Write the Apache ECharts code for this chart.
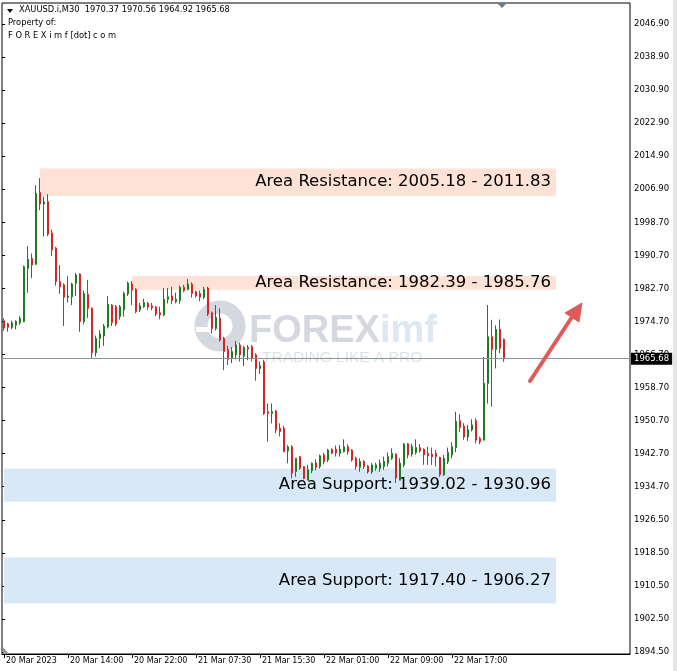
<!DOCTYPE html>
<html><head><meta charset="utf-8">
<script src="https://cdn.jsdelivr.net/npm/echarts@6/dist/echarts.min.js"></script>
<style>html,body{margin:0;padding:0;background:#fff}#c{width:677px;height:671px}</style>
</head><body><div id="c"></div>
<script>
// ---- data (XAUUSD.i M30) ----
const opens = [1974.9,1974.1,1973.3,1973.8,1974.4,1974.7,1987.6,1990.0,1988.6,2006.0,2003.2,2003.8,1996.2,1992.5,1984.4,1983.6,1980.6,1980.7,1984.0,1986.2,
1974.7,1981.3,1977.9,1967.1,1970.6,1971.2,1973.4,1978.7,1978.3,1975.9,1977.5,1981.4,1983.8,1982.5,1977.5,1978.3,1979.1,1978.5,1978.2,1976.8,
1976.3,1980.1,1980.9,1979.5,1979.8,1983.0,1982.5,1983.8,1981.9,1981.5,1980.6,1982.8,1976.8,1973.0,1975.5,1970.6,1967.9,1965.8,1966.6,1969.0,
1966.3,1968.4,1968.6,1966.6,1963.3,1964.9,1952.8,1952.4,1953.0,1948.8,1948.8,1943.3,1944.3,1938.3,1941.9,1939.5,1936.2,1938.5,1940.4,1939.5,
1942.3,1941.1,1943.7,1943.7,1942.7,1943.1,1944.3,1943.5,1941.5,1939.3,1940.7,1939.6,1938.2,1939.1,1939.0,1939.5,1940.3,1941.5,1942.5,1936.2,
1939.9,1945.0,1942.5,1942.9,1944.1,1943.7,1942.7,1942.5,1942.7,1941.7,1937.5,1940.7,1942.3,1944.1,1950.6,1949.3,1946.7,1948.4,1950.6,1946.3,
1945.9,1959.7,1971.0,1967.9,1972.8,1970.37];
const highs = [1975.5,1974.4,1974.9,1975.0,1976.0,1988.3,1993.0,1991.2,2007.8,2009.5,2005.0,2005.6,1997.0,1992.8,1988.4,1984.0,1985.7,1984.1,1986.5,1986.4,
1982.2,1984.8,1978.1,1971.3,1972.6,1974.1,1980.9,1978.9,1978.7,1978.7,1981.9,1984.4,1984.5,1982.8,1979.2,1980.2,1979.5,1979.2,1978.5,1978.3,
1982.8,1982.8,1983.1,1981.7,1983.4,1983.6,1985.0,1984.2,1982.2,1982.2,1983.1,1983.1,1977.1,1978.7,1977.9,1971.0,1968.8,1968.5,1970.0,1969.6,
1968.8,1969.0,1969.0,1967.0,1965.0,1965.4,1954.8,1954.8,1953.2,1950.0,1949.4,1944.7,1944.7,1941.5,1942.1,1939.6,1939.9,1940.5,1941.2,1942.4,
1942.8,1943.8,1943.9,1944.6,1944.7,1946.1,1944.9,1943.7,1941.9,1941.5,1941.1,1939.9,1940.3,1940.4,1941.2,1941.9,1942.9,1943.9,1942.7,1941.5,
1945.2,1945.2,1945.0,1946.1,1944.9,1943.9,1944.3,1944.1,1943.5,1941.9,1942.3,1944.1,1945.4,1952.8,1952.2,1950.0,1949.6,1951.0,1951.2,1946.7,
1966.1,1978.7,1975.1,1973.8,1975.2,1970.56];
const lows = [1972.5,1972.2,1972.8,1972.8,1973.9,1974.5,1981.7,1985.2,1988.4,2001.7,1995.3,1995.4,1990.6,1983.4,1981.4,1973.6,1979.3,1978.7,1980.9,1972.2,
1974.0,1975.5,1965.7,1966.2,1968.2,1968.8,1973.0,1973.6,1973.6,1975.2,1975.9,1980.9,1978.7,1976.7,1977.0,1978.0,1977.5,1977.4,1976.0,1975.2,
1976.0,1979.1,1978.9,1979.1,1979.0,1981.8,1982.3,1980.5,1980.5,1979.6,1980.1,1976.0,1971.8,1972.5,1969.8,1962.9,1964.1,1964.6,1965.5,1965.0,
1963.9,1965.3,1965.0,1960.3,1962.0,1952.0,1945.5,1950.0,1947.6,1946.8,1943.0,1940.3,1936.6,1937.0,1938.7,1936.4,1936.2,1937.9,1938.6,1939.0,
1940.0,1940.6,1942.5,1941.9,1941.9,1942.9,1942.4,1940.7,1938.7,1938.2,1938.9,1937.8,1937.7,1938.5,1938.2,1938.7,1939.5,1941.1,1935.5,1936.2,
1939.3,1941.5,1941.9,1942.4,1942.9,1939.9,1939.9,1939.9,1939.5,1937.0,1937.2,1940.1,1941.5,1943.0,1947.9,1946.0,1945.7,1948.0,1945.1,1944.9,
1945.9,1954.8,1954.0,1963.3,1967.0,1964.92];
const closes = [1973.1,1973.3,1974.4,1974.7,1975.5,1988.0,1989.8,1988.4,2005.8,2003.2,2003.7,1995.9,1992.1,1984.4,1983.1,1980.6,1980.9,1983.8,1986.0,1974.7,
1981.5,1977.9,1967.1,1970.6,1971.7,1973.6,1978.9,1974.4,1974.1,1978.3,1981.5,1984.0,1982.3,1977.1,1978.5,1979.3,1978.2,1978.0,1976.5,1976.3,
1980.1,1980.7,1979.8,1980.1,1983.0,1982.2,1983.8,1981.5,1980.9,1980.6,1982.5,1976.5,1973.0,1975.7,1970.2,1967.4,1965.5,1967.4,1969.0,1966.6,
1968.4,1968.0,1965.8,1963.3,1964.0,1952.4,1952.4,1952.8,1948.4,1948.0,1943.1,1944.3,1937.9,1941.5,1939.1,1936.6,1938.7,1940.3,1939.3,1942.1,
1940.7,1943.5,1942.7,1942.8,1943.7,1944.3,1943.1,1941.1,1939.5,1940.7,1939.5,1938.2,1939.9,1939.9,1940.3,1940.7,1941.9,1942.7,1936.7,1940.3,
1945.0,1942.3,1944.3,1944.1,1943.3,1942.3,1942.1,1941.9,1941.9,1937.5,1941.5,1942.9,1944.3,1950.4,1949.0,1946.7,1948.4,1949.6,1945.9,1945.5,
1959.7,1971.0,1967.9,1972.8,1968.2,1965.68];

const barSlots = 157; // visible bar slots incl. empty right shift
const xTickBars = [0, 16, 32, 48, 64, 80, 96, 112];
const xTickLabels = ['20 Mar 2023','20 Mar 14:00','20 Mar 22:00','21 Mar 07:30','21 Mar 15:30','22 Mar 01:00','22 Mar 09:00','22 Mar 17:00'];
const yTickLabels = ['1894.50','1902.50','1910.50','1918.50','1926.50','1934.70','1942.70','1950.70','1958.70','1966.70',
'1974.70','1982.70','1990.70','1998.70','2006.90','2014.90','2022.90','2030.90','2038.90','2046.90'];

const zoneNames = ['Area Resistance: 2005.18 - 2011.83','Area Resistance: 1982.39 - 1985.76','Area Support: 1939.02 - 1930.96','Area Support: 1917.40 - 1906.27'];
const zoneHigh = [2011.83, 1985.76, 1939.02, 1917.40];
const zoneLow = [2005.18, 1982.39, 1930.96, 1906.27];
const zoneFromBar = [9, 32, 0, 0];
const zoneToBar = [138, 138, 138, 138];
const zoneIsResistance = [true, true, false, false];

const lastPrice = 1965.68;
const headerText = 'XAUUSD.i,M30  1970.37 1970.56 1964.92 1965.68';

// ---- chart ----
const cats = Array.from({length: barSlots}, (_, i) => String(i));
const candleData = opens.map((o, i) => [o, closes[i], lows[i], highs[i]]);
const UP = '#1c7d1c', DOWN = '#d42626';
const FONT = '"DejaVu Sans", sans-serif';

const areaData = zoneNames.map((n, i) => [
  {name: n, xAxis: zoneFromBar[i], yAxis: zoneHigh[i],
   itemStyle: {color: zoneIsResistance[i] ? '#fde2d5' : '#d8e8f7'}},
  {xAxis: zoneToBar[i], yAxis: zoneLow[i]}
]);

const chart = echarts.init(document.getElementById('c'), null, {renderer: 'canvas'});
chart.setOption({
  animation: false,
  backgroundColor: '#ffffff',
  grid: [
    {left: 2, right: 47, top: 3, bottom: 17, show: true, borderColor: '#000', borderWidth: 1, backgroundColor: 'transparent'},
    {left: 2, right: 47, top: 24, bottom: 19, show: false}
  ],
  xAxis: [
    {type: 'category', gridIndex: 0, data: cats, boundaryGap: true,
     axisLine: {show: true, lineStyle: {color: '#000', width: 1}},
     axisTick: {show: true, alignWithLabel: true, length: 4, interval: (i) => xTickBars.includes(i), lineStyle: {color: '#000'}},
     axisLabel: {show: true, interval: (i) => xTickBars.includes(i), align: 'left', margin: 3, padding: [0,0,0,2],
       formatter: (v) => { const k = xTickBars.indexOf(Number(v)); return k >= 0 ? xTickLabels[k] : ''; },
       color: '#000', fontSize: 8, fontFamily: FONT},
     splitLine: {show: false}},
    {type: 'value', gridIndex: 1, min: 0, max: 1, show: false}
  ],
  yAxis: [
    {type: 'value', gridIndex: 0, min: 1894.0, max: 2052.0, position: 'right', show: false, scale: true},
    {type: 'value', gridIndex: 1, min: 0, max: 19, interval: 1, position: 'right',
     axisLine: {show: false}, axisTick: {show: true, length: 3, lineStyle: {color: '#000'}},
     axisLabel: {margin: 4, color: '#000', fontSize: 8.5, fontFamily: FONT, formatter: (v) => yTickLabels[Math.round(v)] || ''},
     splitLine: {show: false}}
  ],
  series: [
    {type: 'candlestick', xAxisIndex: 0, yAxisIndex: 0, data: candleData, barWidth: 2.2, z: 3,
     itemStyle: {color: UP, color0: DOWN, borderColor: UP, borderColor0: DOWN, borderWidth: 1},
     markArea: {silent: true, z: 1,
       label: {show: true, position: 'insideRight', distance: 5, color: '#000', fontSize: 16.5, fontFamily: FONT},
       data: areaData},
     markLine: {silent: true, symbol: 'none', z: 6,
       lineStyle: {color: '#8a9696', width: 1, type: 'solid'},
       label: {show: true, position: 'end', distance: 1, formatter: lastPrice.toFixed(2), backgroundColor: '#000', color: '#fff',
         fontSize: 8.5, fontFamily: FONT, padding: [2, 3, 1, 3]},
       data: [{yAxis: lastPrice}]}
    }
  ],
  graphic: [
    // watermark
    {type: 'circle', z: 0, shape: {cx: 220, cy: 326, r: 19}, style: {fill: 'none', stroke: '#d6d8df', lineWidth: 13}},
    {type: 'rect', z: 0, shape: {x: 196, y: 327, width: 14, height: 5}, style: {fill: '#ffffff'}},
    {type: 'text', z: 0, x: 249, y: 313, style: {text: 'FOREX', font: 'bold 38px "Liberation Sans"', fill: '#d6d8df'}},
    {type: 'text', z: 0, x: 380, y: 313, style: {text: 'imf', font: 'bold 38px "Liberation Sans"', fill: '#dde8f2'}},
    {type: 'text', z: 0, x: 262, y: 350, style: {text: 'TRADING LIKE A PRO', font: '15.5px "Liberation Sans"', fill: '#e0e1e5'}},
    // header
    {type: 'polygon', z: 100, shape: {points: [[7, 9], [13, 9], [10, 13]]}, style: {fill: '#000'}},
    {type: 'text', z: 100, x: 19, y: 6, style: {text: headerText, font: '8.3px ' + FONT, fill: '#000'}},
    {type: 'text', z: 100, x: 8, y: 19, style: {text: 'Property of:', font: '8.3px ' + FONT, fill: '#000'}},
    {type: 'text', z: 100, x: 8, y: 32, style: {text: 'F O R E X i m f [dot] c o m', font: '8.3px ' + FONT, fill: '#000'}},
    // shift marker & corner marker
    {type: 'polygon', z: 100, shape: {points: [[497, 3], [507, 3], [502, 8]]}, style: {fill: '#6b7b8c'}},
    {type: 'polygon', z: 100, shape: {points: [[3, 647], [3, 654], [9, 654]]}, style: {fill: '#9a9a9a'}},
    // arrow
    {type: 'line', z: 100, shape: {x1: 530, y1: 381, x2: 572, y2: 317}, style: {stroke: '#e05a5a', lineWidth: 4, lineCap: 'round'}},
    {type: 'polygon', z: 100, shape: {points: [[582, 303], [579, 322], [565, 313]]}, style: {fill: '#e05a5a', stroke: '#e05a5a', lineWidth: 1, lineJoin: 'round'}},
    // window edge
    {type: 'rect', z: 100, shape: {x: 673, y: 0, width: 4, height: 671}, style: {fill: '#e4e4e4'}}
  ]
});
</script></body></html>
